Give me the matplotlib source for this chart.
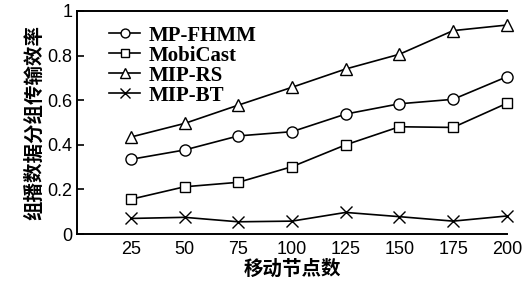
import matplotlib
matplotlib.use('Agg')
import matplotlib.pyplot as plt

# 数据
nodes = [25, 50, 75, 100, 125, 150, 175, 200]
mp_fhmm = [0.335, 0.377, 0.44, 0.459, 0.538, 0.584, 0.604, 0.705]
mobicast = [0.156, 0.212, 0.232, 0.302, 0.40, 0.481, 0.478, 0.586]
mip_rs = [0.435, 0.496, 0.578, 0.658, 0.74, 0.806, 0.912, 0.937]
mip_bt = [0.07, 0.075, 0.055, 0.058, 0.097, 0.078, 0.058, 0.081]

plt.rcParams['font.family'] = ['Liberation Sans', 'Noto Sans CJK SC']

fig = plt.figure(figsize=(5.29, 2.82), dpi=100)
ax = fig.add_axes([0.146, 0.17, 0.812, 0.791])

style = dict(color='black', lw=1.2, markerfacecolor='white', markeredgecolor='black',
             markeredgewidth=1.0, clip_on=False)
ax.plot(nodes, mp_fhmm, marker='o', ms=8, label='MP-FHMM', **style)
ax.plot(nodes, mobicast, marker='s', ms=7, label='MobiCast', **style)
ax.plot(nodes, mip_rs, marker='^', ms=9, label='MIP-RS', **style)
ax.plot(nodes, mip_bt, marker='x', ms=9, label='MIP-BT', **style)

ax.set_xlim(0, 200)
ax.set_ylim(0, 1)
ax.set_xticks(nodes)
ax.set_yticks([0, 0.2, 0.4, 0.6, 0.8, 1])
ax.set_yticklabels(['0', '0.2', '0.4', '0.6', '0.8', '1'])
ax.tick_params(direction='in', labelsize=13, width=1.2, length=5)
ax.tick_params(axis='x', length=0, pad=5)
for s in ax.spines.values():
    s.set_linewidth(1.4)
ax.spines['right'].set_visible(False)

ax.set_xlabel('移动节点数', fontsize=14, fontweight='bold', family='Noto Sans CJK SC', labelpad=1)
ax.set_ylabel('组播数据分组传输效率', fontsize=14, fontweight='bold', family='Noto Sans CJK SC', labelpad=2)

ax.legend(loc='upper left', frameon=False, handlelength=1.5, handletextpad=0.4,
          labelspacing=0.0, borderaxespad=0.3, markerscale=0.8,
          bbox_to_anchor=(0.04, 1.0),
          prop={'family': 'Liberation Serif', 'weight': 'bold', 'size': 15})

fig.savefig('out.png', dpi=100)
